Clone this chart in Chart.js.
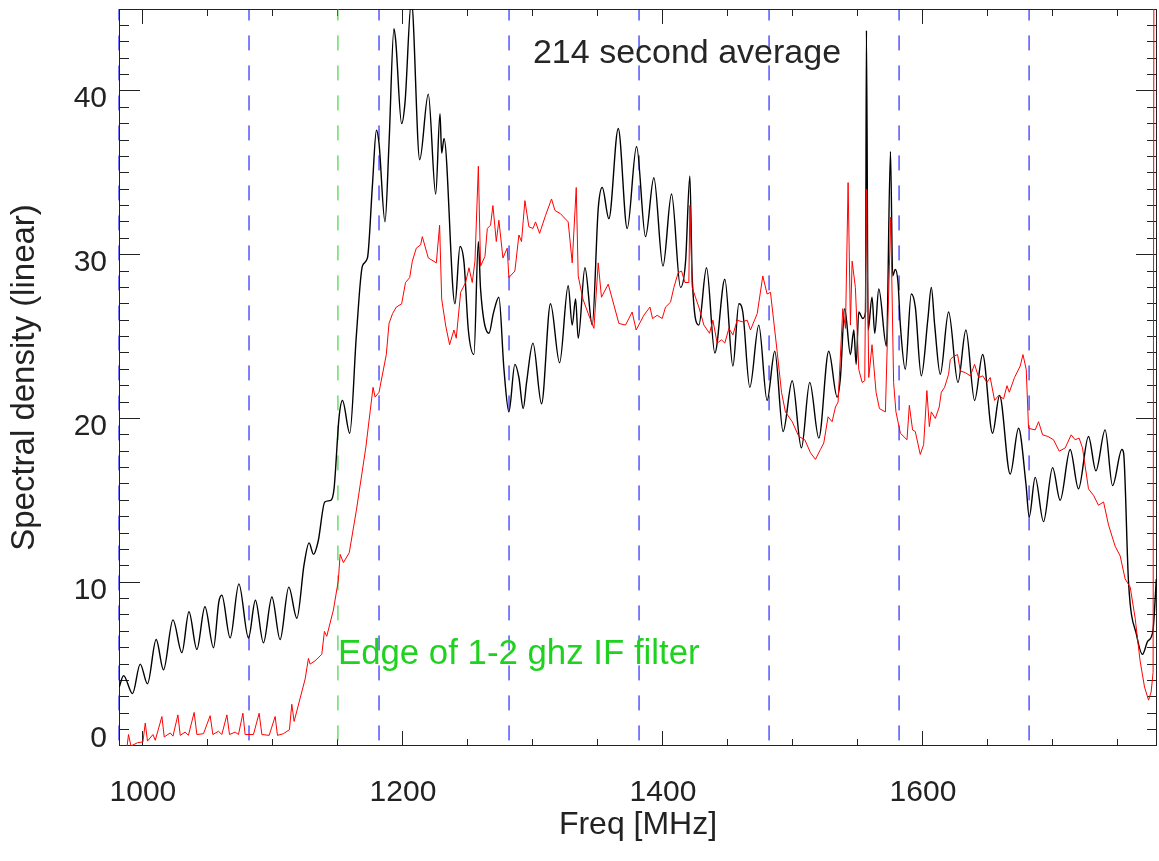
<!DOCTYPE html>
<html>
<head>
<meta charset="utf-8">
<title>214 second average</title>
<script src="https://cdn.jsdelivr.net/npm/chart.js@4.4.1/dist/chart.umd.min.js"></script>
<style>
html,body{margin:0;padding:0;background:#fff;overflow:hidden}
canvas{display:block}
</style>
</head>
<body>
<canvas id="spec" width="1159" height="861"></canvas>
<script>
// black: 214 s average, red: second spectrum (MHz / linear units)
const blackFreq=[981.8,985.1,992.0,997.9,1003.5,1010.2,1015.8,1023.1,1030.0,1035.4,
1041.5,1047.7,1054.3,1058.4,1060.7,1067.1,1073.8,1081.2,1086.5,1092.7,
1099.2,1105.5,1112.2,1118.4,1124.0,1127.8,1131.2,1134.8,1139.9,1144.5,
1147.0,1150.9,1153.5,1159.1,1164.2,1168.8,1172.7,1176.5,1179.6,1181.6,
1186.2,1189.3,1193.1,1194.4,1199.0,1201.6,1206.5,1212.9,1219.5,1225.2,
1228.5,1229.8,1231.6,1240.0,1243.9,1247.0,1250.3,1254.6,1258.0,1259.7,
1266.2,1269.5,1273.8,1277.7,1281.5,1286.1,1289.2,1292.5,1295.1,1300.0,
1306.6,1313.5,1320.5,1327.1,1330.2,1332.8,1334.8,1340.0,1345.6,1350.2,
1353.3,1358.4,1365.6,1372.5,1379.7,1386.6,1393.0,1400.0,1406.6,1413.5,
1417.4,1420.7,1422.5,1427.6,1433.5,1439.9,1447.6,1453.8,1458.4,1461.4,
1466.8,1473.7,1480.1,1486.0,1492.4,1499.4,1506.5,1512.9,1519.9,1527.5,
1534.0,1536.5,1539.8,1544.2,1546.8,1548.6,1550.6,1553.7,1555.8,1556.5,
1557.8,1560.8,1562.9,1566.0,1571.9,1575.0,1576.7,1578.7,1580.8,1582.6,
1586.4,1591.0,1594.1,1598.7,1603.8,1606.4,1609.0,1613.3,1619.7,1626.9,
1633.0,1639.7,1645.9,1653.5,1658.9,1667.1,1673.5,1679.2,1681.7,1686.3,
1692.7,1699.7,1705.5,1713.2,1719.6,1727.3,1733.0,1740.1,1745.8,1753.0,
1754.3,1758.1,1764.5,1768.8,1772.9,1776.8,1779.5]
const blackPower=[3.6,4.3,3.2,5.0,3.8,6.5,4.65,7.7,5.7,8.2,
5.9,8.5,6.0,8.8,9.2,6.6,9.9,6.6,8.9,6.3,
9.1,6.5,9.7,7.8,11.1,12.4,11.7,12.5,14.9,15.0,
15.7,20.1,21.1,19.1,25.1,29.3,29.8,34.2,37.6,36.8,
32.0,36.8,43.8,43.1,38.0,39.3,45.5,35.8,39.8,33.7,
38.6,36.2,37.1,27.0,30.5,29.5,25.4,23.9,30.8,27.9,
25.2,26.4,27.4,23.0,20.4,23.3,22.5,20.6,22.2,24.6,
20.9,27.0,23.4,28.1,25.7,27.3,24.9,29.2,25.7,32.8,
34.1,32.2,37.7,31.6,36.6,31.1,34.7,29.3,33.7,28.0,
29.6,34.8,28.6,25.7,29.2,24.0,28.5,23.2,27.0,26.5,
21.9,25.7,21.1,24.1,19.2,22.3,18.2,22.2,18.8,24.1,
21.3,22.5,26.7,23.9,25.4,23.3,26.5,26.1,26.5,43.7,
25.4,27.4,25.2,27.9,24.4,36.3,28.7,29.1,28.3,25.7,
23.0,27.6,26.8,22.6,26.1,28.0,25.7,22.7,26.5,22.2,
25.4,21.1,23.9,19.1,21.4,16.6,19.4,16.0,14.0,16.4,
13.7,17.0,15.0,18.1,15.7,18.9,16.8,19.3,15.9,18.1,
17.9,10.0,6.7,5.6,6.4,7.0,10.2]

const redFreq=[981.8,987.7,988.9,990.8,995.8,1000.0,1001.8,1003.5,1007.7,1009.5,
1014.6,1016.4,1021.0,1023.1,1026.9,1028.7,1032.5,1035.0,1039.4,1041.5,
1046.6,1051.7,1053.8,1058.1,1060.7,1064.6,1066.6,1070.9,1073.5,1076.9,
1078.6,1085.0,1089.4,1091.5,1097.1,1101.7,1103.5,1108.1,1112.7,1114.5,
1116.3,1124.8,1127.3,1128.6,1132.4,1137.6,1139.6,1141.4,1146.5,1150.3,
1151.7,1154.2,1158.7,1164.2,1171.4,1177.0,1178.6,1181.6,1187.2,1189.3,
1192.0,1194.9,1199.0,1202.0,1205.2,1207.2,1210.3,1213.6,1214.9,1219.5,
1225.7,1228.2,1229.8,1232.8,1235.9,1239.2,1241.0,1244.4,1248.2,1250.8,
1253.3,1255.4,1258.0,1259.7,1263.1,1264.9,1267.4,1269.2,1271.8,1273.8,
1276.9,1280.2,1281.5,1286.1,1289.2,1291.2,1293.8,1296.9,1300.0,1302.0,
1305.1,1309.7,1314.3,1316.9,1321.2,1327.1,1330.2,1333.3,1334.8,1338.4,
1342.5,1346.9,1350.2,1352.7,1357.9,1361.0,1366.1,1371.2,1376.3,1379.4,
1385.3,1390.0,1392.0,1395.6,1399.4,1402.0,1405.8,1408.4,1411.7,1414.3,
1416.9,1419.9,1420.7,1422.5,1425.0,1427.6,1431.5,1435.8,1438.4,1441.7,
1445.0,1447.6,1450.7,1453.8,1457.1,1460.9,1464.8,1467.3,1472.5,1476.8,
1480.1,1482.7,1487.8,1491.2,1494.2,1499.4,1504.5,1509.1,1513.5,1517.3,
1521.1,1523.7,1527.0,1530.1,1532.7,1534.7,1538.3,1540.4,1542.4,1544.2,
1545.5,1548.0,1550.6,1553.2,1555.2,1556.5,1558.3,1560.8,1563.9,1566.5,
1571.1,1575.2,1577.4,1579.2,1582.6,1587.7,1589.5,1592.0,1594.1,1597.9,
1600.5,1603.0,1604.9,1606.4,1609.5,1612.5,1614.1,1616.6,1619.7,1621.0,
1623.6,1626.6,1628.7,1632.5,1636.4,1639.7,1642.8,1646.0,1649.2,1651.7,
1655.1,1658.1,1662.0,1664.6,1666.4,1670.4,1674.8,1676.9,1679.4,1681.2,
1686.3,1688.9,1692.0,1696.1,1700.4,1704.8,1709.4,1714.0,1717.0,1720.1,
1722.7,1727.3,1731.2,1735.0,1738.9,1742.7,1747.8,1751.7,1755.5,1759.4,
1763.2,1767.0,1770.4,1773.5,1775.5,1777.0,1777.8]
const redPower=[-0.2,-0.1,0.7,0.0,0.2,0.25,1.4,0.3,0.7,0.35,
1.8,0.55,0.8,0.6,1.9,0.65,0.85,0.65,2.05,0.7,
0.75,1.85,0.7,0.9,0.7,1.9,0.7,0.85,0.7,2.0,
0.7,0.7,2.0,0.7,0.65,1.8,0.65,0.75,1.0,2.55,
1.5,4.1,5.35,5.0,5.2,5.6,7.0,6.7,8.3,10.1,
11.7,11.2,11.8,14.4,18.2,21.9,21.3,21.6,23.9,25.8,
26.4,26.8,27.0,28.3,28.6,29.6,30.4,30.6,31.1,29.8,
29.5,31.8,27.3,25.7,24.5,25.4,24.9,27.7,28.3,29.2,
28.3,29.6,35.4,29.3,29.9,31.6,31.8,33.0,30.8,32.1,
29.8,30.4,28.6,29.0,31.2,30.8,33.3,31.7,31.6,32.0,
31.3,32.4,33.4,32.7,32.5,32.0,29.5,34.1,28.7,27.3,
26.4,25.5,29.5,27.4,28.2,27.3,25.8,25.7,26.5,25.4,
26.3,26.8,26.1,26.3,26.1,26.8,27.1,28.0,28.9,29.0,
28.3,28.3,33.0,28.0,27.4,26.8,25.7,25.2,26.0,24.6,
24.8,24.6,25.5,25.1,26.0,25.9,26.0,25.4,26.4,28.7,
27.6,27.7,24.1,21.6,20.4,19.8,18.9,18.7,17.9,17.5,
18.1,18.5,20.1,19.8,20.7,21.0,26.7,25.5,34.4,25.7,
29.6,28.0,23.0,22.2,22.3,34.0,22.5,24.5,21.6,20.6,
20.4,32.3,22.2,20.4,19.1,18.7,20.8,19.3,19.2,17.8,
18.4,21.7,19.5,20.4,20.0,20.7,21.6,21.9,22.7,23.6,
23.8,23.9,22.9,22.8,22.6,23.3,22.5,22.6,22.2,22.5,
21.1,21.4,21.2,22.0,21.6,22.5,23.2,23.9,23.0,19.4,
19.3,19.8,19.0,18.9,18.7,18.0,18.2,19.0,18.7,18.8,
18.2,15.7,15.3,14.7,14.9,13.5,12.2,11.6,10.2,9.7,
7.8,5.2,3.6,2.8,3.3,4.5,60]

const xTicks=[1000,1200,1400,1600]
const yTicks=[0,10,20,30,40]
const blueLines=[981.6,1081.6,1181.6,1281.6,1381.6,1481.6,1581.6,1681.6]
const greenLines=[1150]

const FONT="'Liberation Sans', Arial, Helvetica, sans-serif"
const INK="#222"

const notes=[
{text:"214 second average",x:1300,y:41.7,color:"#262626",size:34},
{text:"Edge of 1-2 ghz IF filter",x:1150,y:5,color:"#1fd21f",size:34.8}
]

const pts=(fs,vs)=>fs.map((f,i)=>({x:f,y:vs[i]}))

// IDL-ish frame: box, inward ticks on all four sides, dashed markers
const frame={
id:"frame",
beforeDatasetsDraw(chart){
const {ctx,chartArea:a,scales:{x,y}}=chart
ctx.save()
ctx.strokeStyle=INK
ctx.lineWidth=1
ctx.strokeRect(a.left+0.5,a.top+0.5,a.right-a.left-1,a.bottom-a.top-1)

ctx.beginPath()
for(let v=1000;v<=1750;v+=50){
let px=Math.floor(x.getPixelForValue(v))+0.5
let len=xTicks.includes(v)?15:7
ctx.moveTo(px,a.bottom);ctx.lineTo(px,a.bottom-len)
ctx.moveTo(px,a.top);ctx.lineTo(px,a.top+len)
}
for(let v=1;v<45;v++){
let py=Math.floor(y.getPixelForValue(v))+0.5
let len=yTicks.includes(v)?21:10
ctx.moveTo(a.left,py);ctx.lineTo(a.left+len,py)
ctx.moveTo(a.right,py);ctx.lineTo(a.right-len,py)
}
ctx.stroke()

ctx.setLineDash([15,15])
ctx.lineDashOffset=3.6
const dashed=(vals,color)=>{
ctx.strokeStyle=color
vals.forEach(v=>{
let px=x.getPixelForValue(v)
ctx.beginPath()
ctx.moveTo(px,a.top)
ctx.lineTo(px,a.bottom)
ctx.stroke()
})
}
dashed(blueLines,"#0000ff")
dashed(greenLines,"#22cc22")
ctx.setLineDash([])

ctx.fillStyle=INK
ctx.font="30px "+FONT
ctx.textAlign="right"
ctx.textBaseline="alphabetic"
yTicks.forEach(v=>{
let py=y.getPixelForValue(v)
ctx.fillText(String(v),107,Math.min(py+16.3,a.bottom+0.5))
})
ctx.restore()
},
afterDatasetsDraw(chart){
const {ctx,scales:{x,y}}=chart
ctx.save()
ctx.textAlign="left"
ctx.textBaseline="alphabetic"
notes.forEach(n=>{
ctx.font=n.size+"px "+FONT
ctx.fillStyle=n.color
ctx.fillText(n.text,x.getPixelForValue(n.x),y.getPixelForValue(n.y))
})
ctx.restore()
}
}

new Chart(document.getElementById("spec"),{
type:"line",
data:{
datasets:[
{label:"red",data:pts(redFreq,redPower),borderColor:"#ff0000",borderWidth:1,pointRadius:0,tension:0,order:0},
{label:"214 s",data:pts(blackFreq,blackPower),borderColor:"#000000",borderWidth:1.4,pointRadius:0,cubicInterpolationMode:"monotone",order:1}
]
},
options:{
responsive:false,
animation:false,
devicePixelRatio:1,
layout:{padding:{left:0,right:2,top:9,bottom:0}},
plugins:{legend:{display:false},tooltip:{enabled:false}},
scales:{
x:{
type:"linear",min:981.6,max:1780,
grid:{display:false,drawTicks:false},
border:{display:false},
afterBuildTicks:s=>{s.ticks=xTicks.map(v=>({value:v}))},
afterFit:s=>{s.height=115},
ticks:{color:INK,font:{family:FONT,size:30},padding:29,maxRotation:0,autoSkip:false,callback:v=>String(v)},
title:{display:true,text:"Freq [MHz]",color:INK,font:{family:FONT,size:32},padding:{top:0,bottom:17}}
},
y:{
type:"linear",min:0,max:45,
grid:{display:false,drawTicks:false},
border:{display:false},
afterBuildTicks:s=>{s.ticks=yTicks.map(v=>({value:v}))},
afterFit:s=>{s.width=119},
ticks:{display:false},
title:{display:true,text:"Spectral density (linear)",color:INK,font:{family:FONT,size:33},padding:{top:5,bottom:0}}
}
}
},
plugins:[frame]
})
</script>
</body>
</html>
